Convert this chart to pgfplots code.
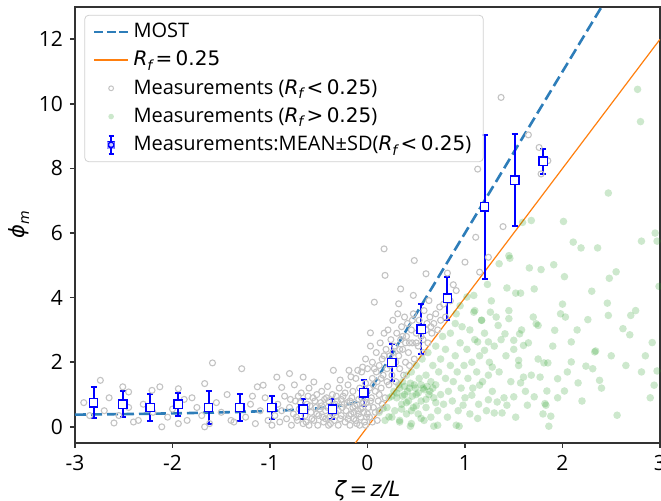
\documentclass[border=0pt]{standalone}
\usepackage{pgfplots}
\pgfplotsset{compat=1.18}
\usepackage{pgfplotstable}
\usepackage{amsmath}
\usepackage{fontspec}
\setmainfont{Open Sans}
\newfontfamily\dvs{DejaVu Sans}
\newcommand{\mi}[1]{{\dvs\itshape #1}}
\newcommand{\mr}[1]{{\dvs #1}}
\newcommand{\sub}[1]{\raisebox{-0.4ex}{\fontsize{7}{8}\selectfont\mi{#1}}}
\definecolor{most}{RGB}{45,125,185}
\definecolor{torange}{RGB}{255,127,14}
\definecolor{tgreen}{RGB}{44,160,44}
\definecolor{greyc}{RGB}{195,195,195}

\pgfplotstableread{
x y e
-2.81 0.75 0.48
-2.51 0.70 0.40
-2.23 0.60 0.43
-1.94 0.70 0.35
-1.63 0.60 0.50
-1.31 0.60 0.43
-0.98 0.60 0.36
-0.66 0.55 0.30
-0.36 0.55 0.30
-0.04 1.06 0.40
0.25 1.99 0.56
0.55 3.02 0.77
0.82 3.98 0.67
1.20 6.81 2.24
1.51 7.64 1.42
1.80 8.22 0.39
}\meansd

\pgfplotstableread{
x y
-3.00 0.378
-2.50 0.395
-2.00 0.417
-1.50 0.447
-1.20 0.472
-1.00 0.492
-0.80 0.519
-0.60 0.554
-0.50 0.577
-0.40 0.606
-0.30 0.644
-0.20 0.699
-0.15 0.736
-0.10 0.787
-0.07 0.829
-0.05 0.863
-0.03 0.907
-0.01 0.964
0.00 1.000
2.44 13.20
}\most

\pgfplotstableread{
x y
-0.125 -0.5
3.0 12.0
}\rfline

\pgfplotstableread{
x y
-2.91 0.75
-2.85 0.35
-2.74 1.44
-2.70 0.50
-2.65 0.90
-2.60 0.12
-2.55 0.35
-2.51 1.24
-2.45 1.08
-2.45 0.60
-2.40 0.15
-2.35 0.20
-2.30 0.70
-2.21 1.13
-2.20 0.45
-2.13 1.24
-2.11 0.00
-2.05 0.30
-2.00 0.55
-1.94 1.18
-1.94 0.10
-1.88 0.85
-1.85 0.20
-1.80 0.90
-1.75 0.60
-1.70 0.35
-1.67 1.34
-1.67 0.00
-1.62 0.10
-1.59 1.98
-1.55 0.75
-1.50 0.45
-1.44 1.00
-1.40 0.20
-1.37 0.15
-1.30 0.55
-1.29 1.80
-1.25 0.30
-1.20 0.70
-1.18 0.95
-1.15 0.10
-1.13 1.24
-1.10 0.50
-1.07 1.29
-1.05 0.90
-1.02 0.20
-0.93 1.54
-0.80 1.65
-0.66 1.54
-0.55 1.39
-0.35 1.75
-0.19 1.75
-0.98 0.05
-0.95 0.35
-0.92 0.70
-0.90 0.15
-0.88 0.50
-0.85 0.95
-0.83 0.25
-0.80 0.60
-0.78 0.05
-0.76 0.40
-0.74 0.80
-0.72 0.20
-0.70 0.55
-0.68 1.05
-0.66 0.10
-0.64 0.35
-0.62 0.70
-0.60 0.05
-0.58 0.45
-0.56 0.90
-0.55 0.20
-0.53 0.60
-0.51 0.05
-0.50 0.35
-0.48 0.75
-0.47 1.10
-0.45 0.15
-0.43 0.50
-0.42 0.90
-0.40 0.05
-0.39 0.30
-0.37 0.65
-0.36 1.00
-0.34 0.20
-0.33 0.45
-0.31 0.80
-0.30 0.05
-0.29 1.20
-0.27 0.35
-0.26 0.60
-0.25 0.95
-0.23 0.15
-0.22 0.50
-0.21 0.75
-0.20 1.30
-0.18 0.05
-0.17 0.40
-0.16 0.90
-0.15 1.10
-0.14 0.25
-0.13 0.65
-0.12 1.50
-0.11 0.10
-0.10 0.50
-0.09 0.85
-0.08 1.20
-0.07 0.30
-0.06 1.70
-0.05 0.60
-0.04 1.00
-0.03 0.15
-0.02 1.35
-0.01 0.75
0.00 1.80
0.00 0.40
-0.79 0.85
-0.73 0.30
-0.69 0.75
-0.65 0.55
-0.61 0.95
-0.57 0.25
-0.54 0.80
-0.49 0.55
-0.46 0.30
-0.44 0.85
-0.41 0.60
-0.38 0.10
-0.35 0.55
-0.32 0.95
-0.28 0.25
-0.24 0.70
-0.19 0.35
-0.15 0.60
-0.12 0.20
-0.09 0.40
-0.06 0.90
-0.04 0.45
-0.01 1.10
0.01 0.60
-0.02 0.05
-0.08 0.05
-0.88 1.22
-0.75 1.30
-0.60 1.20
-0.52 1.00
-0.41 1.25
-0.28 1.45
-0.17 1.55
-0.10 1.75
-0.05 1.85
-0.02 2.10
0.03 2.50
0.05 2.00
0.03 2.91
0.07 3.86
0.18 4.69
0.17 5.51
0.48 5.15
0.34 4.27
0.32 3.81
0.47 4.07
0.60 4.74
1.00 5.10
1.11 5.87
1.13 7.98
1.37 10.20
1.39 6.20
1.24 5.25
1.15 4.79
0.91 4.22
0.82 4.76
1.76 8.65
1.85 8.24
1.78 7.83
1.65 9.04
0.74 3.71
0.63 3.91
0.02 1.20
0.04 0.90
0.05 1.50
0.06 0.60
0.07 1.80
0.08 1.10
0.09 2.30
0.10 1.40
0.11 0.80
0.12 1.90
0.13 2.60
0.14 1.20
0.15 2.10
0.16 1.60
0.17 2.90
0.18 0.90
0.19 2.40
0.20 1.80
0.21 3.00
0.22 1.30
0.23 2.20
0.24 2.70
0.25 1.60
0.26 3.30
0.27 2.00
0.28 2.50
0.29 1.40
0.30 2.90
0.31 3.50
0.32 2.20
0.33 1.80
0.34 2.70
0.35 3.10
0.36 2.40
0.37 1.60
0.38 3.40
0.39 2.00
0.40 2.80
0.41 3.20
0.42 2.30
0.43 1.90
0.45 3.00
0.46 2.60
0.47 3.50
0.48 2.10
0.50 2.90
0.52 2.50
0.53 3.30
0.55 2.80
0.57 2.30
0.58 3.60
0.60 3.00
0.62 2.60
0.64 3.40
0.66 2.90
0.68 3.20
0.70 3.50
0.72 3.00
0.75 3.30
0.78 3.80
0.80 3.40
0.85 3.90
0.88 4.40
0.02 0.30
0.05 0.15
0.08 0.45
0.10 0.20
0.12 0.50
0.15 0.70
-0.71 0.95
-0.63 0.15
-0.59 0.65
-0.52 0.40
-0.47 0.65
-0.43 0.25
-0.40 0.80
-0.36 0.40
-0.33 0.70
-0.30 0.50
-0.27 0.85
-0.23 1.05
-0.20 0.25
-0.18 0.80
-0.14 0.45
-0.11 0.70
-0.07 0.55
-0.04 0.75
-0.01 0.30
0.03 0.80
0.06 1.30
0.09 1.70
0.12 1.00
0.14 1.50
0.17 2.20
0.20 1.40
0.23 1.90
0.26 2.30
0.29 2.00
0.33 2.40
0.36 2.80
0.39 2.60
0.43 2.60
0.46 3.30
0.50 2.60
0.54 3.00
0.57 2.70
0.61 3.20
0.65 3.10
}\grey

\pgfplotstableread{
x y
2.77 10.45
2.80 9.45
2.47 7.24
2.01 6.36
1.68 6.39
1.59 6.33
2.11 5.72
2.19 5.54
2.36 5.54
2.81 5.75
2.97 5.75
1.45 5.30
1.46 5.22
1.91 5.02
1.66 4.92
1.78 4.87
2.02 4.65
2.48 4.60
2.99 4.35
1.23 4.41
1.35 5.05
1.52 4.14
1.57 4.14
1.71 4.27
1.43 4.30
2.46 3.83
2.47 3.45
2.70 3.45
1.98 3.50
2.03 3.40
2.26 3.32
2.62 3.04
2.69 2.85
1.73 3.19
1.75 3.14
1.92 2.99
2.09 2.63
2.92 2.61
2.34 2.35
2.33 2.32
2.09 2.01
1.81 1.98
1.85 1.98
1.95 1.49
2.24 1.88
2.31 1.80
2.38 1.44
2.81 1.70
2.97 1.73
2.94 1.29
2.16 1.36
1.77 1.54
2.02 1.11
1.84 1.11
1.71 0.93
1.64 0.67
1.82 0.72
1.83 0.67
1.88 0.33
1.86 0.02
2.56 0.36
1.38 0.43
1.30 0.43
1.43 0.67
1.50 0.93
1.57 1.36
1.60 1.54
1.55 2.06
1.60 2.52
1.50 2.68
1.56 2.88
1.41 2.88
1.34 3.14
1.45 3.35
1.26 3.55
1.17 3.30
1.09 3.55
0.91 3.50
1.02 4.02
1.09 4.07
0.95 3.75
1.24 2.63
1.13 2.63
1.20 2.37
1.28 1.85
1.24 1.60
1.15 1.29
1.07 0.98
0.98 0.67
0.94 0.02
0.91 0.05
1.13 0.26
1.24 0.84
1.33 0.77
0.72 0.05
0.68 0.02
0.55 0.26
0.44 0.02
0.33 0.15
0.22 0.31
0.16 0.57
0.20 0.60
0.22 0.90
0.25 0.30
0.27 1.10
0.28 0.50
0.30 0.90
0.32 1.30
0.33 0.20
0.35 0.70
0.36 1.40
0.38 1.00
0.40 0.40
0.40 1.60
0.42 0.80
0.43 1.20
0.45 0.10
0.45 1.70
0.47 0.60
0.48 1.30
0.50 1.00
0.50 1.90
0.52 0.40
0.53 1.50
0.55 0.80
0.56 2.10
0.57 1.20
0.58 0.20
0.60 1.60
0.60 0.60
0.62 2.30
0.63 1.00
0.65 1.40
0.65 0.30
0.67 1.90
0.68 0.90
0.70 2.50
0.70 1.30
0.72 0.50
0.73 1.70
0.75 2.10
0.75 1.00
0.77 2.80
0.78 0.70
0.80 1.50
0.80 2.40
0.82 0.30
0.83 1.10
0.85 1.90
0.85 2.90
0.87 0.80
0.88 1.40
0.90 2.20
0.90 3.20
0.92 1.70
0.93 0.50
0.95 2.60
0.96 1.20
0.97 3.10
0.99 1.90
1.00 0.90
1.02 2.40
1.03 1.50
1.05 3.00
1.05 0.40
1.07 2.00
1.08 1.20
1.10 2.70
1.10 3.60
1.12 1.70
1.14 0.70
1.15 2.20
1.17 3.30
1.18 1.40
1.20 2.90
1.22 0.50
1.25 2.00
1.27 3.90
1.28 1.10
1.30 2.50
1.32 3.40
1.35 1.70
1.37 2.70
1.40 0.90
1.42 2.20
1.45 3.60
1.47 1.40
1.50 2.40
1.52 0.30
1.55 1.90
1.58 3.00
1.62 1.10
1.65 2.60
1.68 1.60
1.70 3.40
1.75 2.10
1.80 0.40
1.90 2.50
1.95 0.90
2.00 3.80
2.05 1.70
2.15 3.00
2.20 0.80
2.30 4.20
2.40 1.20
2.50 2.20
2.55 4.80
2.65 1.90
2.75 3.60
2.85 2.20
2.90 0.90
2.95 6.00
0.30 1.05
0.33 1.20
0.36 0.95
0.38 1.25
0.41 1.10
0.44 1.35
0.46 0.95
0.49 1.20
0.52 1.05
0.55 1.30
0.58 1.15
0.61 1.25
0.64 1.10
0.67 1.20
0.40 0.75
0.50 0.65
0.60 0.85
0.70 0.75
0.35 0.55
0.45 0.50
0.12 0.45
0.18 0.20
0.25 0.95
}\green

\begin{document}
\begin{tikzpicture}
\begin{axis}[
  width=292.5pt, height=218pt, scale only axis,
  xmin=-3, xmax=3, ymin=-0.5, ymax=13,
  xtick={-3,-2,-1,0,1,2,3},
  xticklabels={-3,-2,-1,0,1,2,3},
  ytick={0,2,4,6,8,10,12},
  yticklabels={0,2,4,6,8,10,12},
  tick align=outside, tick pos=left,
  major tick length=2.5pt,
  axis line style={black!80, line width=0.8pt},
  every tick/.style={black!80, line width=0.8pt},
  tick label style={font=\fontsize{10.5}{12}\selectfont},
  xlabel={\mi{ζ}\mr{\,=\,}\mi{z/L}},
  ylabel={\mi{ϕ}\sub{m}},
  label style={font=\fontsize{10.5}{12}\selectfont},
  xlabel style={yshift=2pt},
  ylabel style={yshift=-2pt},
  legend style={at={(rel axis cs:0.016,0.982)}, anchor=north west,
    draw=black!18, rounded corners=2pt, fill=white, fill opacity=0.8, text opacity=1,
    font=\fontsize{10}{11.5}\selectfont, row sep=1.2pt, inner xsep=4pt, inner ysep=2pt,
    cells={anchor=west}},
]
\coordinate (bl) at (rel axis cs:0,0);
\coordinate (tr) at (rel axis cs:1,1);

\addplot[forget plot, only marks, color=tgreen, mark=*, mark size=1.9pt,
  mark options={draw opacity=0, fill=tgreen, fill opacity=0.24}] table[x=x,y=y] {\green};
\addplot[forget plot, only marks, color=greyc, mark=o, mark size=1.5pt,
  mark options={draw=greyc, line width=0.55pt, fill=none}] table[x=x,y=y] {\grey};
\addplot[forget plot, torange, line width=0.6pt] table[x=x,y=y] {\rfline};
\addplot[forget plot, most, line width=1.3pt, dash pattern=on 5.5pt off 2.5pt] table[x=x,y=y] {\most};
\addplot[forget plot, blue, only marks, mark=none,
  error bars/.cd, y dir=both, y explicit,
  error bar style={line width=1pt, blue},
  error mark options={rotate=90, mark size=1.5pt, line width=1pt, blue}]
  table[x=x,y=y,y error=e] {\meansd};
\addplot[forget plot, blue, only marks, mark=square*, mark size=2.1pt,
  mark options={draw=blue, fill=white, line width=0.7pt}]
  table[x=x,y=y] {\meansd};

\addlegendimage{most, line width=1.3pt, dash pattern=on 4.3pt off 2.05pt}
\addlegendentry{MOST}
\addlegendimage{torange, line width=0.6pt}
\addlegendentry{\mi{R}\sub{f}\mr{\,=\,0.25}}
\addlegendimage{only marks, color=greyc, mark=o, mark size=1.2pt, mark options={draw=greyc, line width=0.5pt}}
\addlegendentry{Measurements (\mi{R}\sub{f}\mr{\,<\,0.25})}
\addlegendimage{only marks, color=tgreen, mark=*, mark size=1.4pt, mark options={draw opacity=0, fill=tgreen, fill opacity=0.24}}
\addlegendentry{Measurements (\mi{R}\sub{f}\mr{\,>\,0.25})}
\addlegendimage{legend image code/.code={%
  \draw[blue, line width=0.9pt] (0.3cm,-4.5pt) -- (0.3cm,4.5pt);
  \draw[blue, line width=0.9pt] (0.3cm-1.2pt,-4.5pt) -- (0.3cm+1.2pt,-4.5pt);
  \draw[blue, line width=0.9pt] (0.3cm-1.2pt,4.5pt) -- (0.3cm+1.2pt,4.5pt);
  \draw[blue, line width=0.6pt, fill=white] (0.3cm-1.5pt,-1.5pt) rectangle (0.3cm+1.5pt,1.5pt);}}
\addlegendentry{Measurements:MEAN±SD(\mi{R}\sub{f}\mr{\,<\,0.25})}
\end{axis}
\pgfresetboundingbox
\path ([shift={(-37.5pt,-29pt)}]bl) rectangle ([shift={(0.5pt,3.5pt)}]tr);
\end{tikzpicture}
\end{document}
